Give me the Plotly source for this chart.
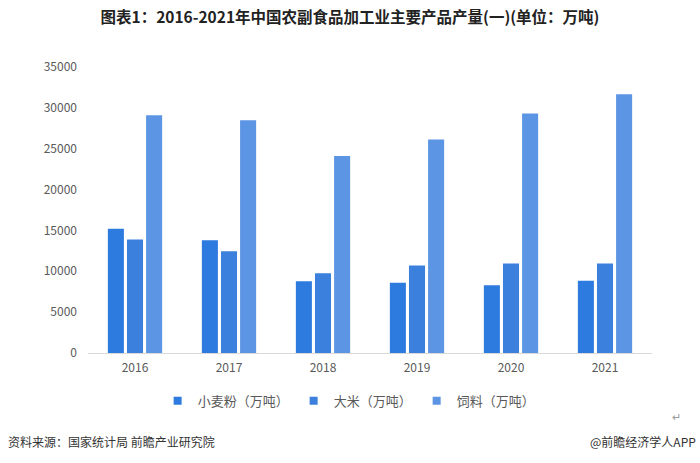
import plotly.graph_objects as go

years = ["2016", "2017", "2018", "2019", "2020", "2021"]
wheat = [15200, 13800, 8780, 8590, 8290, 8830]
rice = [13900, 12460, 9760, 10700, 10950, 10950]
feed = [29100, 28490, 24110, 26120, 29310, 31680]
series_names = ["小麦粉（万吨）", "大米（万吨）", "饲料（万吨）"]
colors = ["#2E7BE0", "#3A80DC", "#5B95E3"]

font_family = "Noto Sans CJK SC, Microsoft YaHei, sans-serif"

fig = go.Figure()
for name, vals, c in zip(series_names, [wheat, rice, feed], colors):
    fig.add_trace(go.Bar(x=years, y=vals, name=name, showlegend=False,
                         marker=dict(color=c, line=dict(width=0))))
# legend entries with small square markers
for name, c in zip(series_names, colors):
    fig.add_trace(go.Scatter(x=[None], y=[None], mode="markers", name=name,
                             marker=dict(symbol="square", size=8, color=c)))

fig.update_layout(
    width=700, height=463,
    paper_bgcolor="white", plot_bgcolor="white",
    margin=dict(l=88, r=48, t=67, b=110),
    barmode="group", bargap=0.39, bargroupgap=0.16,
    font=dict(family=font_family, color="#595959", size=12),
    title=dict(text="<b>图表1：2016-2021年中国农副食品加工业主要产品产量(一)(单位：万吨)</b>",
               x=0.5, xanchor="center", y=0.962, yanchor="middle",
               font=dict(size=15.5, color="#222222", family=font_family)),
    xaxis=dict(showgrid=False, showline=True, linecolor="#D9D9D9", linewidth=1,
               ticks="", tickfont=dict(size=12, color="#595959"), ticklabelstandoff=4),
    yaxis=dict(range=[0, 35000], dtick=5000, showgrid=False, showline=False, zeroline=False,
               ticks="", tickfont=dict(size=12, color="#595959"), ticklabelstandoff=10,
               tickformat="d"),
    legend=dict(orientation="h", x=0.463, xanchor="center", y=-0.115, yanchor="top",
                font=dict(size=13, color="#595959"), itemwidth=30, traceorder="normal",
                tracegroupgap=0),
    showlegend=True,
)

fig.add_annotation(text="资料来源：国家统计局 前瞻产业研究院", xref="paper", yref="paper",
                   x=-82/564, xanchor="left", y=-0.308, yanchor="middle", showarrow=False,
                   font=dict(size=12, color="#333333", family=font_family))
fig.add_annotation(text="@前瞻经济学人APP", xref="paper", yref="paper",
                   x=1 + 46/564, xanchor="right", y=-0.308, yanchor="middle", showarrow=False,
                   font=dict(size=12, color="#333333", family=font_family))
fig.add_annotation(text="↵", xref="paper", yref="paper",
                   x=1 + 24/564, xanchor="center", y=-0.22, yanchor="middle", showarrow=False,
                   font=dict(size=11, color="#999999", family=font_family))

fig.write_html("out.html", config={"displayModeBar": False},
               post_script="document.body.style.margin='0';")
